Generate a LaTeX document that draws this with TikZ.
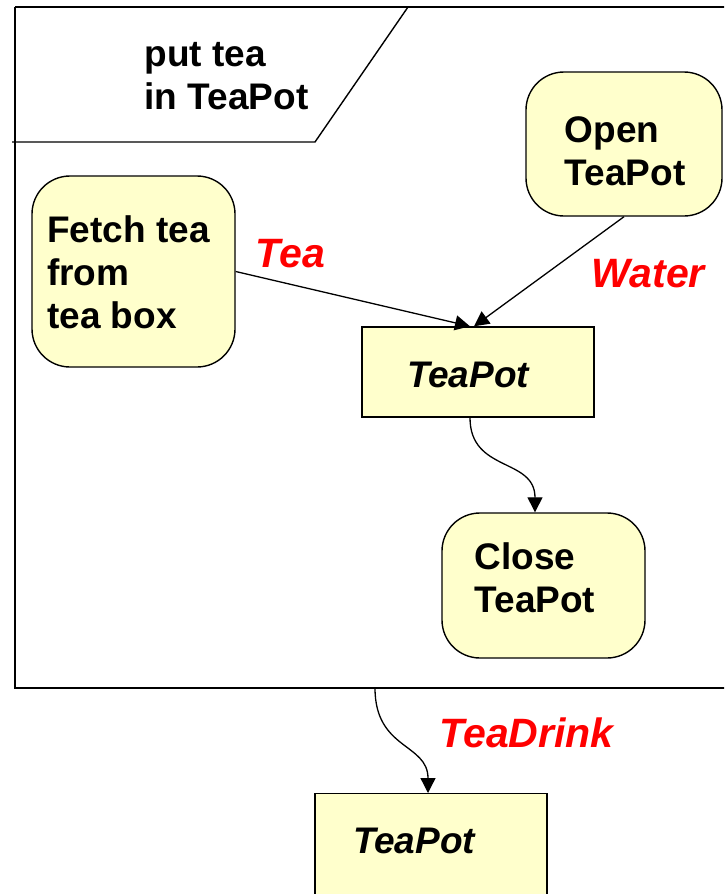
\documentclass[tikz,border=0pt]{standalone}
\usepackage{fontspec}
\setmainfont{Liberation Sans}
\usetikzlibrary{arrows.meta}
\definecolor{boxfill}{HTML}{FFFFCC}
\begin{document}
\begin{tikzpicture}[x=1pt,y=-1pt,
  line width=1.4pt,
  rbox/.style={draw=black, fill=boxfill, rounded corners=38pt, inner sep=0pt},
  sbox/.style={draw=black, fill=boxfill, inner sep=0pt},
  btxt/.style={font=\bfseries\fontsize{37}{43}\selectfont, align=left, inner sep=0pt},
  itxt/.style={font=\bfseries\itshape\fontsize{37}{43}\selectfont, inner sep=0pt},
  rlbl/.style={text=red, font=\bfseries\itshape\fontsize{41}{48}\selectfont, inner sep=0pt, anchor=base west},
  flow/.style={-{Triangle[length=15pt,width=15pt]}, line width=1.3pt},
]
\useasboundingbox (0,0) rectangle (724,894);
\clip (0,0) rectangle (724,894);
% frame of the activity
\draw (15,7) -- (15,688) -- (730,688);
\draw (15,7) -- (730,7);
\draw (12,142) -- (315,142) -- (408,7);
\coordinate (fout) at (375,688);
\node[btxt] (ptitle) at (226.5,76) {put tea\\in TeaPot};
% boxes
\node[rbox, minimum width=203pt, minimum height=191pt] (fetch) at (133.5,271.5) {};
\node[btxt] (fetchtxt) at (128.5,272.5) {Fetch tea\\from\\tea box};
\node[rbox, minimum width=196pt, minimum height=144pt] (open) at (624,144) {};
\node[btxt] (opentxt) at (625,151) {Open\\TeaPot};
\node[sbox, minimum width=232pt, minimum height=90pt] (pot) at (478,372) {};
\node[itxt] (pottxt) at (468,375) {TeaPot};
\node[rbox, minimum width=203pt, minimum height=145pt] (close) at (543.5,585.5) {};
\node[btxt] (closetxt) at (535,578) {Close\\TeaPot};
\node[sbox, minimum width=232pt, minimum height=130pt, anchor=north] (pot2) at (431,793) {};
\node[itxt] (pot2txt) at (414,841) {TeaPot};
% connectors
\draw[flow] (fetch.east) -- ([xshift=-8pt]pot.north);
\draw[flow] (open.south) -- ([xshift=-4pt]pot.north);
\draw[flow] ([xshift=-8pt]pot.south) .. controls +(0,55) and +(0,-55) .. ([xshift=-8.5pt]close.north);
\draw[flow] (fout) .. controls +(0,62) and +(0,-50) .. ([xshift=-3pt]pot2.north);
% labels
\node[rlbl] (ltea) at (255,267) {Tea};
\node[rlbl] (lwater) at (591,287) {Water};
\node[rlbl] (ldrink) at (439,747) {TeaDrink};
\end{tikzpicture}
\end{document}
